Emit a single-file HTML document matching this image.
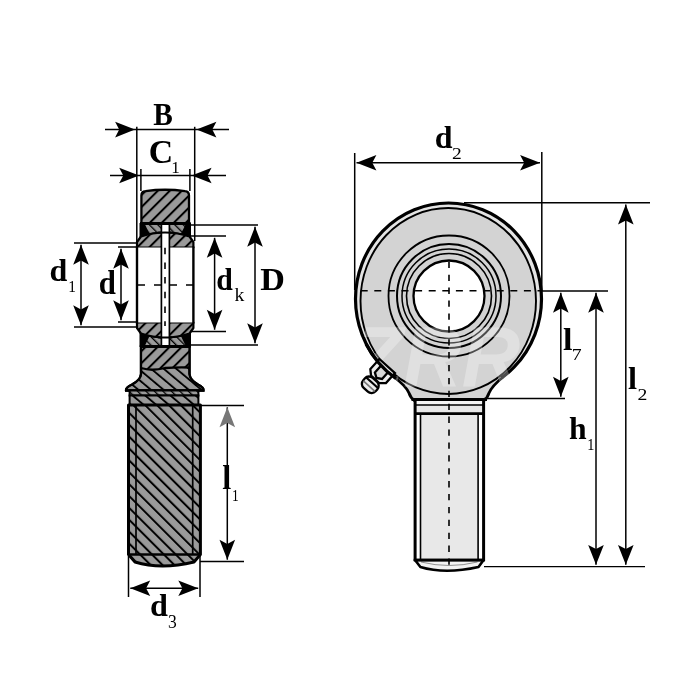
<!DOCTYPE html>
<html><head><meta charset="utf-8"><style>
html,body{margin:0;padding:0;background:#fff;width:700px;height:700px;overflow:hidden}
svg{display:block;filter:grayscale(1)}
text{font-family:"Liberation Serif",serif;fill:#000}
</style></head><body>
<svg width="700" height="700" viewBox="0 0 700 700">
<defs>
<pattern id="hA" patternUnits="userSpaceOnUse" width="8.485" height="8.485" patternTransform="translate(11.2,0) rotate(45)">
<rect width="8.485" height="8.485" fill="#9a9a9a"/><rect x="0" y="0" width="2" height="8.485" fill="#000"/></pattern>
<pattern id="hB" patternUnits="userSpaceOnUse" width="8.1" height="8.1" patternTransform="rotate(-50)">
<rect width="8.1" height="8.1" fill="#9a9a9a"/><rect x="0" y="0" width="1.9" height="8.1" fill="#000"/></pattern>
<pattern id="hC" patternUnits="userSpaceOnUse" width="6" height="6" patternTransform="rotate(-45)">
<rect width="6" height="6" fill="#9a9a9a"/><rect x="0" y="0" width="1.3" height="6" fill="#000"/></pattern>
<pattern id="hS" patternUnits="userSpaceOnUse" width="8.4" height="8.4" patternTransform="rotate(-45)">
<rect width="8.4" height="8.4" fill="#9a9a9a"/><rect x="0" y="0" width="2" height="8.4" fill="#000"/></pattern>
</defs>
<rect width="700" height="700" fill="#fff"/>
<text transform="translate(153.31,125.40) scale(0.2935,0.3246)" font-size="100" font-weight="bold">B</text>
<text transform="translate(148.71,162.56) scale(0.3383,0.3409)" font-size="100" font-weight="bold">C</text>
<text transform="translate(171.36,172.90) scale(0.1714,0.1682)" font-size="100" font-weight="normal">1</text>
<text transform="translate(49.42,281.07) scale(0.3200,0.3257)" font-size="100" font-weight="bold">d</text>
<text transform="translate(68.21,291.70) scale(0.1543,0.1727)" font-size="100" font-weight="normal">1</text>
<text transform="translate(98.67,293.67) scale(0.3080,0.3271)" font-size="100" font-weight="bold">d</text>
<text transform="translate(216.21,290.28) scale(0.2980,0.3229)" font-size="100" font-weight="bold">d</text>
<text transform="translate(234.51,301.10) scale(0.1958,0.1812)" font-size="100" font-weight="normal">k</text>
<text transform="translate(260.22,289.50) scale(0.3415,0.3215)" font-size="100" font-weight="bold">D</text>
<text transform="translate(222.25,489.30) scale(0.3250,0.3319)" font-size="100" font-weight="bold">l</text>
<text transform="translate(231.99,500.70) scale(0.1343,0.1682)" font-size="100" font-weight="normal">1</text>
<text transform="translate(150.11,615.78) scale(0.3220,0.3214)" font-size="100" font-weight="bold">d</text>
<text transform="translate(168.02,627.72) scale(0.1756,0.1788)" font-size="100" font-weight="normal">3</text>
<text transform="translate(434.82,148.29) scale(0.3200,0.3071)" font-size="100" font-weight="bold">d</text>
<text transform="translate(452.12,158.90) scale(0.1950,0.1754)" font-size="100" font-weight="normal">2</text>
<text transform="translate(562.92,350.00) scale(0.3417,0.3159)" font-size="100" font-weight="bold">l</text>
<text transform="translate(571.82,360.00) scale(0.1975,0.1708)" font-size="100" font-weight="normal">7</text>
<text transform="translate(568.97,439.30) scale(0.3173,0.3217)" font-size="100" font-weight="bold">h</text>
<text transform="translate(587.31,449.60) scale(0.1429,0.1727)" font-size="100" font-weight="normal">1</text>
<text transform="translate(627.95,389.30) scale(0.3250,0.3217)" font-size="100" font-weight="bold">l</text>
<text transform="translate(637.41,400.00) scale(0.1975,0.1754)" font-size="100" font-weight="normal">2</text>
<path d="M141.4,224 V195.5 Q141.4,191.6 145.5,191.2 Q165,188.3 185,191.2 Q189,191.6 189,195.5 V224 Z" fill="url(#hA)" stroke="#000" stroke-width="2.3"/>
<path d="M141,346.5 H189.5 V374 Q190,380 198,384.5 Q204,387.5 203.5,390.5 L126,390.5 Q125.5,387.5 132,384.5 Q140.5,380 141,374 Z" fill="url(#hB)" stroke="#000" stroke-width="2.3"/>
<path d="M141,346.5 H189.5 V367.5 Q178,367 165,368 Q152,371.5 141,368 Z" fill="url(#hA)"/>
<path d="M141,368 Q152,371.5 165,368 Q178,367 189.5,367.5" fill="none" stroke="#000" stroke-width="2.3"/>
<path d="M141,346.5 H189.5 V374 Q190,380 198,384.5 Q204,387.5 203.5,390.5 L126,390.5 Q125.5,387.5 132,384.5 Q140.5,380 141,374 Z" fill="none" stroke="#000" stroke-width="2.3"/>
<path d="M141,223.5 H189.5 V236.5 Q165,228.5 141,236.5 Z" fill="url(#hC)" stroke="#000" stroke-width="2"/>
<path d="M141,224.5 L145,224.5 L149.5,233.7 L141,236.5 Z" fill="#000"/>
<path d="M189.5,224.5 L185.5,224.5 L181,233.7 L189.5,236.5 Z" fill="#000"/>
<path d="M141,236.5 Q165,228.5 189.5,236.5 L193.4,242 V247.5 H137 V242 Z" fill="url(#hA)" stroke="#000" stroke-width="2.2" stroke-linejoin="round"/>
<path d="M140,223.5 H190.5" stroke="#000" stroke-width="3"/>
<path d="M141,346.5 H189.5 V333.5 Q165,341.5 141,333.5 Z" fill="url(#hC)" stroke="#000" stroke-width="2"/>
<path d="M141,345.5 L145,345.5 L149.5,336.3 L141,333.5 Z" fill="#000"/>
<path d="M189.5,345.5 L185.5,345.5 L181,336.3 L189.5,333.5 Z" fill="#000"/>
<path d="M141,333.5 Q165,341.5 189.5,333.5 L193.4,328 V322.5 H137 V328 Z" fill="url(#hA)" stroke="#000" stroke-width="2.2" stroke-linejoin="round"/>
<path d="M140,346.5 H190.5" stroke="#000" stroke-width="3"/>
<path d="M141,223 V237" stroke="#000" stroke-width="3"/>
<path d="M189.5,223 V237" stroke="#000" stroke-width="3"/>
<path d="M141,333 V347" stroke="#000" stroke-width="3"/>
<path d="M189.5,333 V347" stroke="#000" stroke-width="3"/>
<rect x="137" y="247.5" width="56.4" height="75" fill="#fff"/>
<line x1="137" y1="246.5" x2="137" y2="323.5" stroke="#000" stroke-width="2.4" />
<line x1="193.4" y1="246.5" x2="193.4" y2="323.5" stroke="#000" stroke-width="2.4" />
<rect x="161.4" y="225" width="8" height="120" fill="#fff"/>
<line x1="161.4" y1="225" x2="161.4" y2="345" stroke="#000" stroke-width="1.7" />
<line x1="169.4" y1="225" x2="169.4" y2="345" stroke="#000" stroke-width="1.7" />
<path d="M158,232.8 Q165,232.3 172,232.8" fill="none" stroke="#000" stroke-width="2"/>
<path d="M158,337.2 Q165,337.7 172,337.2" fill="none" stroke="#000" stroke-width="2"/>
<line x1="165" y1="247.7" x2="165" y2="326" stroke="#000" stroke-width="1.6" stroke-dasharray="6.5 8.2"/>
<line x1="138" y1="285" x2="193" y2="285" stroke="#000" stroke-width="1.4" stroke-dasharray="7 9"/>
<rect x="129.6" y="390.5" width="68.8" height="5" fill="url(#hC)" stroke="#000" stroke-width="2"/>
<rect x="129.6" y="395.5" width="68.8" height="9.5" fill="url(#hB)" stroke="#000" stroke-width="2"/>
<path d="M128.5,405 H200.4 V554.5 L194,562 Q161,570 135,562 L128.5,554.5 Z" fill="url(#hS)" stroke="#000" stroke-width="3" stroke-linejoin="round"/>
<path d="M128.5,554.5 H200.4" stroke="#000" stroke-width="2.6"/>
<line x1="136" y1="405" x2="136" y2="554.5" stroke="#000" stroke-width="1.7" />
<line x1="192.7" y1="405" x2="192.7" y2="554.5" stroke="#000" stroke-width="1.7" />
<line x1="136.8" y1="126.8" x2="136.8" y2="242" stroke="#000" stroke-width="1.5" />
<line x1="194.7" y1="126.8" x2="194.7" y2="241" stroke="#000" stroke-width="1.5" />
<line x1="105" y1="129.6" x2="229" y2="129.6" stroke="#000" stroke-width="1.5" />
<path d="M135.00,129.60L115.10,137.40L119.20,129.60L115.10,121.80Z" fill="#000"/>
<path d="M196.50,129.60L216.40,121.80L212.30,129.60L216.40,137.40Z" fill="#000"/>
<line x1="140.9" y1="169" x2="140.9" y2="191" stroke="#000" stroke-width="1.5" />
<line x1="189.9" y1="169" x2="189.9" y2="191" stroke="#000" stroke-width="1.5" />
<line x1="110" y1="175.5" x2="226" y2="175.5" stroke="#000" stroke-width="1.5" />
<path d="M139.10,175.50L119.20,183.30L123.30,175.50L119.20,167.70Z" fill="#000"/>
<path d="M191.70,175.50L211.60,167.70L207.50,175.50L211.60,183.30Z" fill="#000"/>
<line x1="74" y1="243" x2="137" y2="243" stroke="#000" stroke-width="1.5" />
<line x1="74" y1="327" x2="137" y2="327" stroke="#000" stroke-width="1.5" />
<line x1="81" y1="244.8" x2="81" y2="325.2" stroke="#000" stroke-width="1.5" />
<path d="M81.00,244.80L88.80,264.70L81.00,260.60L73.20,264.70Z" fill="#000"/>
<path d="M81.00,325.20L73.20,305.30L81.00,309.40L88.80,305.30Z" fill="#000"/>
<line x1="118" y1="247" x2="137" y2="247" stroke="#000" stroke-width="1.5" />
<line x1="118" y1="322" x2="137" y2="322" stroke="#000" stroke-width="1.5" />
<line x1="121" y1="248.8" x2="121" y2="320.2" stroke="#000" stroke-width="1.5" />
<path d="M121.00,248.80L128.80,268.70L121.00,264.60L113.20,268.70Z" fill="#000"/>
<path d="M121.00,320.20L113.20,300.30L121.00,304.40L128.80,300.30Z" fill="#000"/>
<line x1="190" y1="236" x2="226" y2="236" stroke="#000" stroke-width="1.5" />
<line x1="190" y1="331.5" x2="226" y2="331.5" stroke="#000" stroke-width="1.5" />
<line x1="214.6" y1="237.8" x2="214.6" y2="329.7" stroke="#000" stroke-width="1.5" />
<path d="M214.60,237.80L222.40,257.70L214.60,253.60L206.80,257.70Z" fill="#000"/>
<path d="M214.60,329.70L206.80,309.80L214.60,313.90L222.40,309.80Z" fill="#000"/>
<line x1="190" y1="225" x2="258" y2="225" stroke="#000" stroke-width="1.5" />
<line x1="190" y1="345" x2="258" y2="345" stroke="#000" stroke-width="1.5" />
<line x1="255" y1="226.8" x2="255" y2="343.2" stroke="#000" stroke-width="1.5" />
<path d="M255.00,226.80L262.80,246.70L255.00,242.60L247.20,246.70Z" fill="#000"/>
<path d="M255.00,343.20L247.20,323.30L255.00,327.40L262.80,323.30Z" fill="#000"/>
<line x1="200" y1="405.5" x2="244" y2="405.5" stroke="#000" stroke-width="1.5" />
<line x1="200" y1="561.5" x2="244" y2="561.5" stroke="#000" stroke-width="1.5" />
<line x1="227.3" y1="407.3" x2="227.3" y2="559.7" stroke="#000" stroke-width="1.5" />
<path d="M227.30,407.30L235.10,427.20L227.30,423.10L219.50,427.20Z" fill="#777"/>
<path d="M227.30,559.70L219.50,539.80L227.30,543.90L235.10,539.80Z" fill="#000"/>
<line x1="128.5" y1="556" x2="128.5" y2="597" stroke="#000" stroke-width="1.5" />
<line x1="200" y1="556" x2="200" y2="597" stroke="#000" stroke-width="1.5" />
<line x1="130.3" y1="588.3" x2="198.2" y2="588.3" stroke="#000" stroke-width="1.5" />
<path d="M130.30,588.30L150.20,580.50L146.10,588.30L150.20,596.10Z" fill="#000"/>
<path d="M198.20,588.30L178.30,596.10L182.40,588.30L178.30,580.50Z" fill="#000"/>
<ellipse cx="448.5" cy="299" rx="93" ry="96" fill="#e4e4e4" stroke="#000" stroke-width="3.2"/>
<path d="M394,377 Q406,386 409,393 Q410.5,398 414,400 H484 Q487.5,398 489,393 Q492,386 503,377 Z" fill="#d3d3d3"/>
<path d="M394,377 Q406,386 409,393 Q410.5,398 415,401" fill="none" stroke="#000" stroke-width="2.8"/>
<path d="M503,377 Q492,386 489,393 Q487.5,398 483.5,401" fill="none" stroke="#000" stroke-width="2.8"/>
<ellipse cx="448.25" cy="301" rx="87.75" ry="93" fill="#d3d3d3" stroke="#000" stroke-width="1.9"/>
<circle cx="449" cy="296" r="60.5" fill="none" stroke="#000" stroke-width="1.8"/>
<circle cx="449" cy="296" r="52" fill="none" stroke="#000" stroke-width="2"/>
<circle cx="449" cy="296" r="47" fill="none" stroke="#000" stroke-width="1.5"/>
<circle cx="449" cy="296" r="42.5" fill="none" stroke="#000" stroke-width="1.6"/>
<circle cx="449" cy="296" r="35.5" fill="#fff" stroke="#000" stroke-width="2.3"/>
<text x="354" y="386" font-size="86" style="font-family:'Liberation Sans',sans-serif;font-style:italic;font-weight:bold;fill:#fff;fill-opacity:0.3" textLength="166" lengthAdjust="spacingAndGlyphs">ZRR</text>
<g transform="translate(384.5,369) rotate(132)" stroke="#000" fill="#ececec">
<path d="M-4,-10.5 H9.5 L14,-5.5 V5.5 L9.5,10.5 H-4 Z" stroke-width="2.3"/>
<path d="M0,-4.8 H9 L12,0 L9,4.8 H0" fill="#d8d8d8" stroke-width="2.3"/>
<rect x="14.5" y="-8.3" width="13.5" height="16.6" rx="5.5" stroke-width="2.3"/>
<path d="M18.5,-7.5 V7.5" fill="none" stroke-width="2.2"/>
<path d="M23,-7.8 V7.8" fill="none" stroke="#777" stroke-width="1.6"/>
</g>
<path d="M366,344 A93,96 0 0,0 396,378.5" fill="none" stroke="#000" stroke-width="3.2"/>
<rect x="415" y="399.4" width="68.6" height="161" fill="#e8e8e8"/>
<rect x="416" y="401" width="67" height="3.5" fill="#f4f4f4"/>
<rect x="416" y="414" width="4.5" height="146" fill="#fff"/>
<rect x="478.2" y="414" width="4.5" height="146" fill="#fff"/>
<path d="M415,560 L420.4,567 Q445,574.4 478.5,567 L483.6,560 Z" fill="#f2f2f2" stroke="#000" stroke-width="2.6" stroke-linejoin="round"/>
<path d="M421,562 Q449,569 477.5,562" fill="none" stroke="#000" stroke-width="0.8" stroke-opacity="0.5"/>
<line x1="411.5" y1="399.4" x2="487" y2="399.4" stroke="#000" stroke-width="3" />
<line x1="415" y1="405" x2="483.6" y2="405" stroke="#000" stroke-width="1.6" />
<line x1="415" y1="413.6" x2="483.6" y2="413.6" stroke="#000" stroke-width="2.6" />
<line x1="415.1" y1="399" x2="415.1" y2="561" stroke="#000" stroke-width="3" />
<line x1="483.6" y1="399" x2="483.6" y2="561" stroke="#000" stroke-width="3" />
<line x1="420.5" y1="413.6" x2="420.5" y2="560" stroke="#000" stroke-width="1.6" />
<line x1="478.1" y1="413.6" x2="478.1" y2="560" stroke="#000" stroke-width="1.6" />
<line x1="413.8" y1="560.1" x2="484.9" y2="560.1" stroke="#000" stroke-width="2.6" />
<line x1="449" y1="261.8" x2="449" y2="568" stroke="#000" stroke-width="1.6" stroke-dasharray="6.3 6.6"/>
<line x1="360.7" y1="290.8" x2="540" y2="290.8" stroke="#000" stroke-width="1.6" stroke-dasharray="7 6.6"/>
<line x1="354.7" y1="153" x2="354.7" y2="290" stroke="#000" stroke-width="1.5" />
<line x1="541.8" y1="152" x2="541.8" y2="291" stroke="#000" stroke-width="1.5" />
<line x1="356.5" y1="162.7" x2="540.0" y2="162.7" stroke="#000" stroke-width="1.5" />
<path d="M356.50,162.70L376.40,154.90L372.30,162.70L376.40,170.50Z" fill="#000"/>
<path d="M540.00,162.70L520.10,170.50L524.20,162.70L520.10,154.90Z" fill="#000"/>
<line x1="464" y1="202.8" x2="650" y2="202.8" stroke="#000" stroke-width="1.5" />
<line x1="484" y1="566.6" x2="645" y2="566.6" stroke="#000" stroke-width="1.3" />
<line x1="625.8" y1="204.60000000000002" x2="625.8" y2="564.8000000000001" stroke="#000" stroke-width="1.5" />
<path d="M625.80,204.60L633.60,224.50L625.80,220.40L618.00,224.50Z" fill="#000"/>
<path d="M625.80,564.80L618.00,544.90L625.80,549.00L633.60,544.90Z" fill="#000"/>
<line x1="541" y1="291" x2="608" y2="291" stroke="#000" stroke-width="1.5" />
<line x1="596" y1="292.8" x2="596" y2="564.8000000000001" stroke="#000" stroke-width="1.5" />
<path d="M596.00,292.80L603.80,312.70L596.00,308.60L588.20,312.70Z" fill="#000"/>
<path d="M596.00,564.80L588.20,544.90L596.00,549.00L603.80,544.90Z" fill="#000"/>
<line x1="484" y1="398.5" x2="565" y2="398.5" stroke="#000" stroke-width="1.5" />
<line x1="560.8" y1="292.8" x2="560.8" y2="396.7" stroke="#000" stroke-width="1.5" />
<path d="M560.80,292.80L568.60,312.70L560.80,308.60L553.00,312.70Z" fill="#000"/>
<path d="M560.80,396.70L553.00,376.80L560.80,380.90L568.60,376.80Z" fill="#000"/>
</svg></body></html>
